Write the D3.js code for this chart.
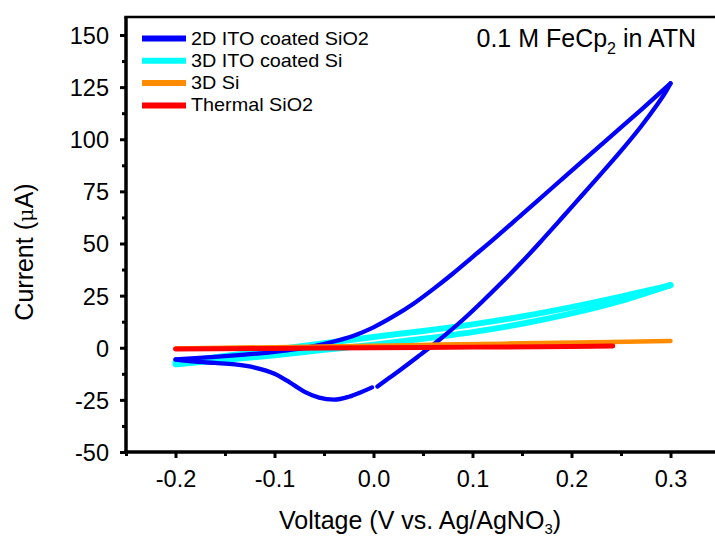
<!DOCTYPE html>
<html><head><meta charset="utf-8">
<script src="https://cdn.jsdelivr.net/npm/d3@7"></script>
<style>body{margin:0;background:#fff}svg{display:block}</style>
</head><body>
<script>
// ---- data ----
const seriesNames = ["2D ITO coated SiO2", "3D ITO coated Si", "3D Si", "Thermal SiO2"];
const seriesColors = ["#0000ff", "#00ffff", "#ff8c00", "#ff0000"];
// 2D ITO coated SiO2 cyclic voltammogram, split into branches (V, µA)
const blueForward = [[0.004,-18.6],[0.015,-14.8],[0.03,-9.6],[0.045,-4.2],[0.06,1.3],[0.075,7.1],[0.09,13.3],[0.11,22.2],[0.13,31.5],[0.15,41.2],[0.17,51.5],[0.19,62.1],[0.21,72.8],[0.23,83.5],[0.25,94.4],[0.27,106],[0.285,115.6],[0.295,122.6],[0.3,126.8]];
const blueReverse = [[0.3,126.8],[0.27,114],[0.24,101.5],[0.21,89],[0.18,76.5],[0.15,64],[0.12,51.5],[0.10,43.5],[0.08,35.5],[0.06,28],[0.04,21],[0.02,15],[0.0,9.8],[-0.02,5.8],[-0.04,3],[-0.06,0.8],[-0.08,-0.8],[-0.1,-2],[-0.13,-3.3],[-0.16,-4.4],[-0.2,-5.6]];
const blueReturn = [[-0.2,-5.7],[-0.18,-6.7],[-0.16,-7.3],[-0.14,-8.0],[-0.12,-9.5],[-0.10,-12.5],[-0.085,-16.5],[-0.07,-21.0],[-0.055,-23.9],[-0.04,-24.9],[-0.025,-23.5],[-0.012,-21.2],[-0.0015,-19]];
// 3D ITO coated Si
const cyanForward = [[-0.2,-7.9],[-0.15,-5.8],[-0.1,-3.6],[-0.05,-1.0],[0.0,1.5],[0.05,4.3],[0.1,7.5],[0.15,11.5],[0.2,16.5],[0.25,22.5],[0.3,30]];
const cyanReverse = [[0.3,30],[0.25,24.5],[0.2,19.5],[0.15,15],[0.1,11.2],[0.05,8],[0.0,5.2],[-0.05,2.2],[-0.1,-1],[-0.15,-4],[-0.2,-7]];
// 3D Si
const orangeData = [[-0.2,-0.3],[-0.1,0.3],[0.0,0.9],[0.067,1.5],[0.15,2.1],[0.24,2.7],[0.3,3.2]];
// Thermal SiO2
const redData = [[-0.2,-0.6],[-0.1,-0.3],[0.0,0.0],[0.1,0.3],[0.2,0.6],[0.2417,0.8]];
const xTicks = [-0.2, -0.1, 0.0, 0.1, 0.2, 0.3];
const xMinor = [-0.25, -0.15, -0.05, 0.05, 0.15, 0.25];
const yTicks = [-50, -25, 0, 25, 50, 75, 100, 125, 150];
const yMinor = [-37.5, -12.5, 12.5, 37.5, 62.5, 87.5, 112.5, 137.5];

// ---- layout ----
const W = 715, H = 537;
const L = 126, T = 17, B = 452;
const xs = d3.scaleLinear().domain([-0.2, 0.3]).range([175.5, 670.5]);
const ys = d3.scaleLinear().domain([-50, 150]).range([452, 35]);
const R = xs(0.35);
const font = "'Liberation Sans', Arial, sans-serif";
const loc = d3.formatLocale({decimal: ".", thousands: ",", grouping: [3], currency: ["", ""], minus: "-"});

const svg = d3.select("body").append("svg").attr("width", W).attr("height", H);

svg.append("defs").append("clipPath").attr("id","c")
  .append("rect").attr("x", L).attr("y", T).attr("width", R - L).attr("height", B - T);

const line = d3.line().x(d => xs(d[0])).y(d => ys(d[1])).curve(d3.curveMonotoneX);
const g = svg.append("g").attr("clip-path","url(#c)");
function draw(data, color, w) {
  const sorted = data.slice().sort((a, b) => a[0] - b[0]);
  g.append("path").datum(sorted).attr("d", line).attr("fill","none")
    .attr("stroke", color).attr("stroke-width", w).attr("stroke-linecap","round").attr("stroke-linejoin","round");
}
draw(cyanForward, seriesColors[1], 6);
draw(cyanReverse, seriesColors[1], 6);
draw(blueForward, seriesColors[0], 4.3);
draw(blueReverse, seriesColors[0], 4.3);
draw(blueReturn, seriesColors[0], 4.3);
draw(orangeData, seriesColors[2], 4.5);
draw(redData, seriesColors[3], 5);

// axes
const xAxis = d3.axisBottom(xs).tickValues(xTicks).tickFormat(loc.format(".1f")).tickSize(6).tickSizeOuter(0).tickPadding(12);
const xAxisMinor = d3.axisBottom(xs).tickValues(xMinor).tickFormat("").tickSize(4).tickSizeOuter(0);
const yAxis = d3.axisLeft(ys).tickValues(yTicks).tickFormat(loc.format("d")).tickSize(6).tickSizeOuter(0).tickPadding(11);
const yAxisMinor = d3.axisLeft(ys).tickValues(yMinor).tickFormat("").tickSize(4).tickSizeOuter(0);

function styleAxis(sel) {
  sel.selectAll(".domain").remove();
  sel.selectAll(".tick line").attr("stroke","#000").attr("stroke-width",3);
  sel.selectAll(".tick text").attr("font-family", font).attr("font-size", 23.5).attr("fill","#000");
}
svg.append("g").attr("transform", `translate(0,${B})`).call(xAxis).call(styleAxis);
svg.append("g").attr("transform", `translate(0,${B})`).call(xAxisMinor).call(styleAxis);
svg.append("g").attr("transform", `translate(${L},0)`).call(yAxis).call(styleAxis)
  .selectAll(".tick text").attr("dy", "0.36em");
svg.append("g").attr("transform", `translate(${L},0)`).call(yAxisMinor).call(styleAxis);

// frame
svg.append("line").attr("x1", L - 1.75).attr("x2", W + 5).attr("y1", B).attr("y2", B).attr("stroke","#000").attr("stroke-width",3.5);
svg.append("line").attr("x1", L).attr("x2", L).attr("y1", T).attr("y2", B).attr("stroke","#000").attr("stroke-width",3.5);
svg.append("line").attr("x1", L - 1.75).attr("x2", W + 5).attr("y1", T).attr("y2", T).attr("stroke","#000").attr("stroke-width",2.5);

// axis titles
svg.append("text").attr("x", 420).attr("y", 529).attr("text-anchor","middle")
  .attr("font-family", font).attr("font-size", 25)
  .html('Voltage (V vs. Ag/AgNO<tspan dy="5" font-size="15">3</tspan><tspan dy="-5">)</tspan>');
svg.append("text").attr("transform", "translate(33,252) rotate(-90)").attr("text-anchor","middle")
  .attr("font-family", font).attr("font-size", 25)
  .html('Current (<tspan font-family="\'DejaVu Serif\', serif" font-size="21">μ</tspan>A)');

// annotation
svg.append("text").attr("x", 476.5).attr("y", 47).attr("font-family", font).attr("font-size", 25)
  .html('0.1 M FeCp<tspan dy="7" font-size="16">2</tspan><tspan dy="-7"> in ATN</tspan>');

// legend
const leg = svg.append("g");
seriesNames.forEach((n, i) => {
  const y = 38.5 + i * 22.3;
  leg.append("line").attr("x1", 142).attr("x2", 186).attr("y1", y).attr("y2", y)
    .attr("stroke", seriesColors[i]).attr("stroke-width", 6);
  leg.append("text").attr("transform", `translate(191,${y + 6}) scale(1.1,1)`)
    .attr("font-family", font).attr("font-size", 18).text(n);
});
</script>
</body></html>
